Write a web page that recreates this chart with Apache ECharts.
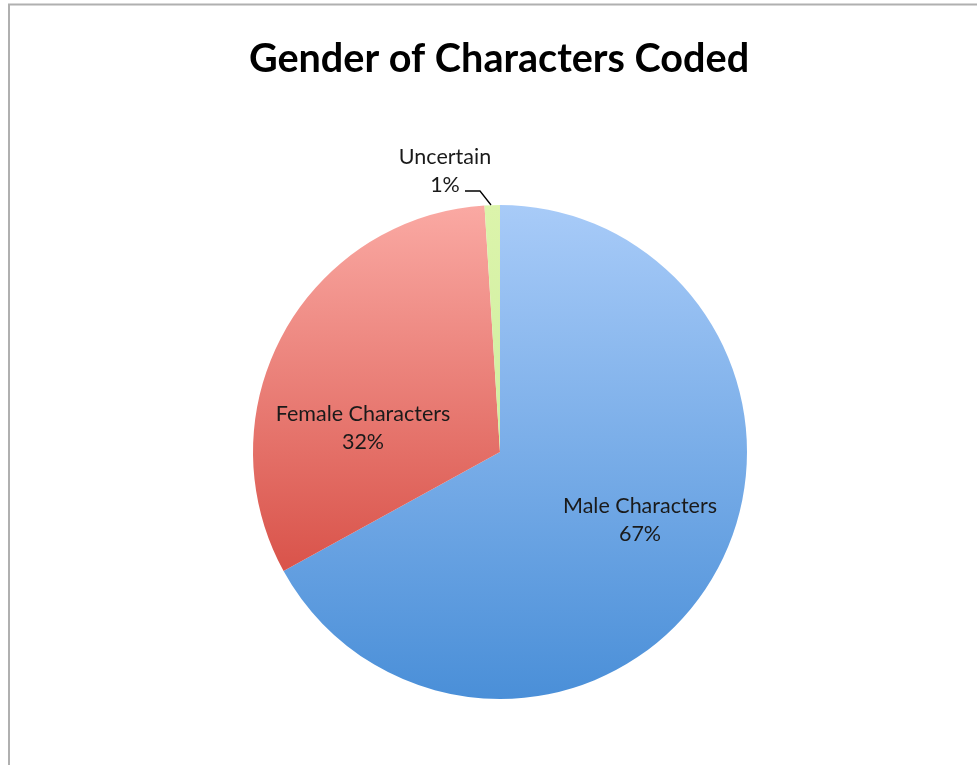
<!DOCTYPE html>
<html>
<head>
<meta charset="utf-8">
<script src="https://cdn.jsdelivr.net/npm/echarts@6/dist/echarts.min.js"></script>
<style>
html,body{margin:0;padding:0;background:#fff;}
#chart{width:977px;height:765px;}
</style>
</head>
<body>
<div id="chart"></div>
<script>
// ---- data ----
const categories = ['Male Characters', 'Female Characters', 'Uncertain'];
const values = [67, 32, 1];
const titleText = 'Gender of Characters Coded';

// ---- styling / layout (not data) ----
const gradients = [
  ['#a8cbf8', '#4a8fd8'],
  ['#faa9a3', '#d9534a'],
  ['#dcf4ab', '#cfeea0']
];
const CX = 500, CY = 452, R = 247;
// label anchor positions (relative to pie centre)
const labelPos = [
  {dx: 140, dy: 68},
  {dx: -137, dy: -24},
  {dx: -55, dy: -281}
];

const chart = echarts.init(document.getElementById('chart'), null, {renderer: 'canvas'});

const data = categories.map((name, i) => ({
  name: name,
  value: values[i],
  itemStyle: {
    color: {
      type: 'linear', x: 0, y: 0, x2: 0, y2: 1,
      colorStops: [{offset: 0, color: gradients[i][0]}, {offset: 1, color: gradients[i][1]}]
    }
  }
}));

chart.setOption({
  animation: false,
  backgroundColor: '#ffffff',
  title: {
    text: titleText,
    left: 494,
    textAlign: 'center',
    top: 34,
    textStyle: {fontFamily: 'Lato', fontWeight: 'bold', fontSize: 39.6, color: '#000'}
  },
  graphic: [{
    type: 'polyline',
    shape: {points: [[9, 770], [9, 4.5], [980, 4.5]]},
    style: {stroke: '#b0b0b0', lineWidth: 2, fill: null}
  }, {
    // leader line for the small "Uncertain" slice
    type: 'polyline',
    shape: {points: [[CX - 9, CY - R], [CX - 20, CY - 261], [CX - 35, CY - 261]]},
    style: {stroke: '#000', lineWidth: 1.3, fill: null},
    z: 10
  }],
  series: [{
    type: 'pie',
    center: [CX, CY],
    radius: [0, R],
    startAngle: 90,
    clockwise: true,
    data: data,
    itemStyle: {borderWidth: 0},
    label: {
      show: true,
      position: 'inside',
      formatter: p => p.name + '\n' + Math.round(p.percent) + '%',
      fontFamily: 'Lato',
      fontSize: 21.5,
      lineHeight: 28,
      color: '#1a1a1a',
      align: 'center'
    },
    labelLine: {show: false},
    labelLayout: function (p) {
      const lp = labelPos[p.dataIndex];
      return {
        x: CX + lp.dx,
        y: CY + lp.dy,
        align: 'center',
        verticalAlign: 'middle'
      };
    },
    emphasis: {disabled: true}
  }]
});
</script>
</body>
</html>
